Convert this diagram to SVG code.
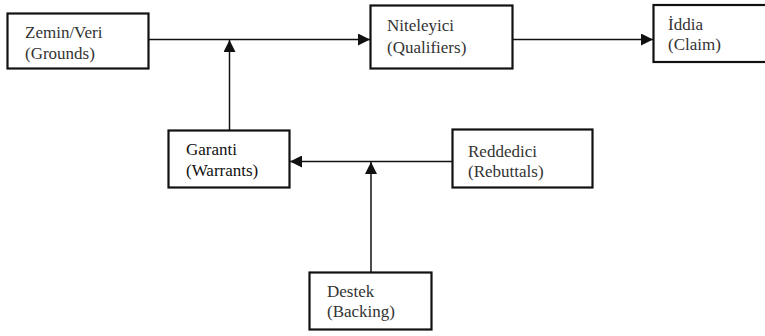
<svg xmlns="http://www.w3.org/2000/svg" width="765" height="336" viewBox="0 0 765 336">
<style>
.box{fill:#fff;stroke:#111;stroke-width:2.2}
.t{font-family:"Liberation Serif","Times New Roman",serif;font-size:17px;fill:#333}
.ln{stroke:#111;stroke-width:1.5;fill:none}
</style>
<defs>
<marker id="ah" markerWidth="12" markerHeight="12" viewBox="0 0 12 12" refX="12" refY="6" orient="auto" markerUnits="userSpaceOnUse">
<path d="M0,0 L12,6 L0,12 z" fill="#111"/>
</marker>
</defs>
<rect width="765" height="336" fill="#fff"/>
<g id="connectors">
<line class="ln" x1="149" y1="39.5" x2="370" y2="39.5" marker-end="url(#ah)"/>
<line class="ln" x1="229.5" y1="130" x2="229.5" y2="40" marker-end="url(#ah)"/>
<line class="ln" x1="513" y1="39.5" x2="653" y2="39.5" marker-end="url(#ah)"/>
<line class="ln" x1="452" y1="161.5" x2="290" y2="161.5" marker-end="url(#ah)"/>
<line class="ln" x1="371" y1="272" x2="371" y2="162" marker-end="url(#ah)"/>
</g>
<g id="zemin">
<rect class="box" x="7.5" y="13.5" width="141" height="55"/>
<text class="t" x="25" y="38">Zemin/Veri</text>
<text class="t" x="25" y="59">(Grounds)</text>
</g>
<g id="niteleyici">
<rect class="box" x="370.5" y="5.5" width="142" height="63"/>
<text class="t" x="387" y="31">Niteleyici</text>
<text class="t" x="387" y="53">(Qualifiers)</text>
</g>
<g id="iddia">
<rect class="box" x="653.5" y="5" width="120" height="57"/>
<text class="t" x="668" y="30">İddia</text>
<text class="t" x="668" y="50">(Claim)</text>
</g>
<g id="garanti">
<rect class="box" x="168.5" y="130.5" width="121" height="57"/>
<text class="t" x="186" y="155" style="fill:#111">Garanti</text>
<text class="t" x="186" y="176" style="fill:#111">(Warrants)</text>
</g>
<g id="reddedici">
<rect class="box" x="452.5" y="129.5" width="140" height="58"/>
<text class="t" x="468" y="157">Reddedici</text>
<text class="t" x="468" y="177">(Rebuttals)</text>
</g>
<g id="destek">
<rect class="box" x="309.5" y="272.5" width="122" height="57"/>
<text class="t" x="327" y="297">Destek</text>
<text class="t" x="327" y="317">(Backing)</text>
</g>
</svg>
